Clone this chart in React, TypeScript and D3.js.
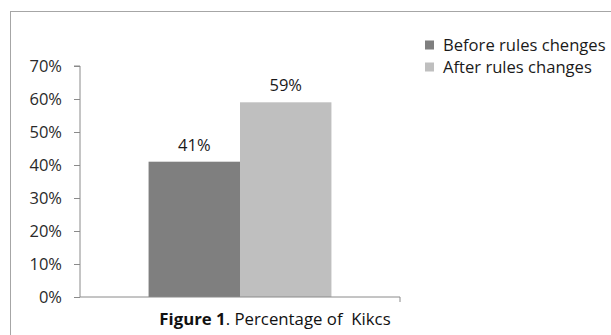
import * as d3 from 'd3';
import { useEffect, useRef } from 'react';

// chart data
const series = ['Before rules chenges', 'After rules changes'];
const values = [0.41, 0.59];
const yTicks = [0, 0.1, 0.2, 0.3, 0.4, 0.5, 0.6, 0.7];
const colors = ['#7f7f7f', '#bfbfbf'];

const W = 611;
const H = 335;
const margin = { left: 80, right: 211, top: 66, bottom: 38 };
const FONT = '"Open Sans", Lato, sans-serif';

const App = () => {
    const axisRef = useRef<SVGGElement>(null);

    const innerW = W - margin.left - margin.right;
    const innerH = H - margin.top - margin.bottom;

    const y = d3.scaleLinear().domain([0, 0.7]).range([innerH, 0]);
    const x = d3.scaleBand<string>().domain(series).range([0, innerW]).paddingInner(0).paddingOuter(0.75);

    useEffect(() => {
        const g = d3.select(axisRef.current);
        g.selectAll('*').remove();
        const yAxis = d3.axisLeft(y).tickValues(yTicks).tickSize(6).tickFormat(d3.format('.0%'));
        const ga = g.append('g').call(yAxis);
        ga.attr('font-family', null).attr('font-size', null);
        ga.select('.domain').attr('stroke', '#8a8a8a').attr('d', `M-6,0H0V${innerH}`);
        ga.selectAll('.tick line').attr('stroke', '#8a8a8a');
        ga.selectAll('.tick text')
            .attr('x', -18)
            .attr('fill', '#2a2a2a')
            .style('font-size', '16.5px')
            .style('font-family', FONT);

        // x axis line with end tick
        g.append('path')
            .attr('d', `M0,${innerH}H${innerW}V${innerH + 5}`)
            .attr('stroke', '#8a8a8a')
            .attr('fill', 'none');
    }, []);

    return (
        <div style={{ position: 'fixed', left: 0, top: 0 }}>
            <svg width={W} height={H} style={{ display: 'block', background: '#fff' }}>
                <rect x={10.5} y={11.5} width={640} height={360} fill="none" stroke="#a6a6a6" />
                <g transform={`translate(${margin.left},${margin.top})`}>
                    {series.map((s, i) => (
                        <g key={s}>
                            <rect
                                x={x(s)}
                                y={y(values[i])}
                                width={x.bandwidth()}
                                height={innerH - y(values[i])}
                                fill={colors[i]}
                            />
                            <text
                                x={(x(s) ?? 0) + x.bandwidth() / 2}
                                y={y(values[i]) - 11}
                                textAnchor="middle"
                                fontFamily={FONT}
                                fontSize={16.5}
                                fill="#1a1a1a"
                            >
                                {d3.format('.0%')(values[i])}
                            </text>
                        </g>
                    ))}
                    <g ref={axisRef} />
                </g>
                <text
                    x={275}
                    y={325}
                    textAnchor="middle"
                    fontFamily={FONT}
                    fontSize={16.8}
                    fill="#111"
                    style={{ whiteSpace: 'pre' }}
                >
                    <tspan fontWeight="bold">Figure 1</tspan>. Percentage of  Kikcs
                </text>
                {series.map((s, i) => (
                    <g key={s} transform={`translate(425,${45 + i * 22})`}>
                        <rect x={0} y={-4.5} width={9} height={9} fill={colors[i]} />
                        <text x={18} y={5.5} fontFamily={FONT} fontSize={16.6} fill="#1a1a1a">
                            {s}
                        </text>
                    </g>
                ))}
            </svg>
        </div>
    );
};

export default App;
